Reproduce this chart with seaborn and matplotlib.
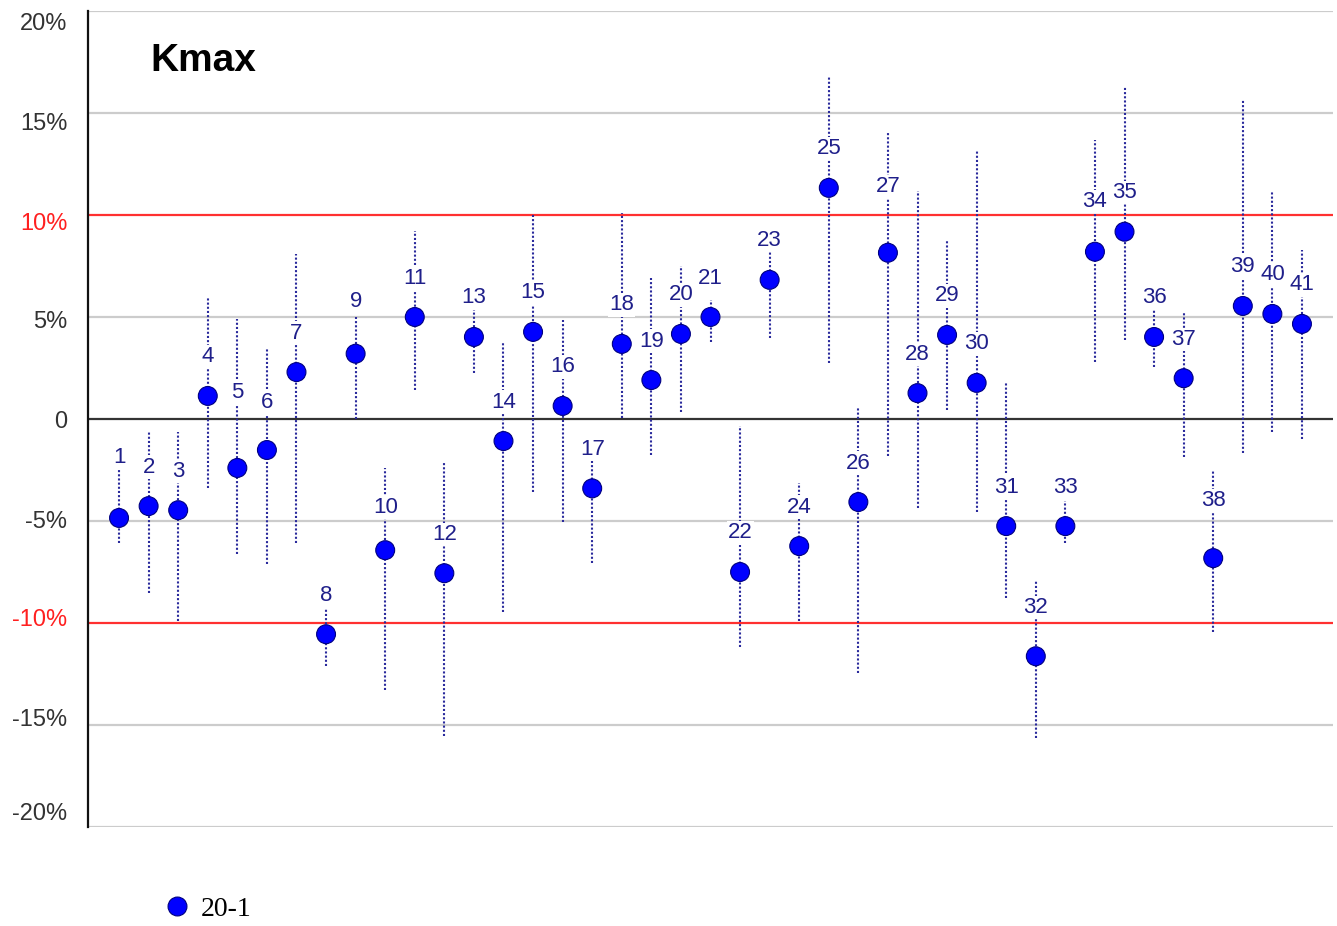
import numpy as np
import pandas as pd
import matplotlib
matplotlib.use('Agg')
import matplotlib.pyplot as plt
import matplotlib.transforms as mtransforms
from matplotlib.ticker import FuncFormatter
import seaborn as sns

# valeurs (en %)
samples = list(range(1, 42))
kmax = [-4.85, -4.27, -4.47, 1.13, -2.40, -1.52, 2.30, -10.55, 3.20, -6.43,
        5.00, -7.56, 4.02, -1.08, 4.27, 0.64, -3.40, 3.68, 1.91, 4.17,
        5.00, -7.50, 6.82, -6.23, 11.33, -4.07, 8.15, 1.27, 4.12, 1.77,
        -5.25, -11.63, -5.25, 8.20, 9.18, 4.02, 2.00, -6.82, 5.54, 5.15, 4.66]
upper = [-2.3, -0.64, -0.64, 5.94, 4.9, 3.43, 8.1, -9.3, 5.0, -2.4,
         9.2, -2.1, 5.5, 3.78, 10.1, 4.86, -1.7, 10.1, 6.9, 7.5,
         5.84, -0.34, 8.2, -3.14, 16.8, 0.54, 14.0, 11.2, 8.78, 13.2,
         1.77, -7.9, -4.0, 13.7, 16.3, 6.48, 5.25, -2.5, 15.7, 11.2, 8.3]
lower = [-6.1, -8.55, -9.9, -3.39, -6.6, -7.1, -6.1, -12.1, 0.0, -13.3,
         1.4, -15.55, 2.26, -9.47, -3.58, -5.05, -7.07, 0.05, -1.77, 0.34,
         3.78, -11.2, 3.97, -9.9, 2.75, -12.46, -1.82, -4.37, 0.44, -4.56,
         -8.78, -15.65, -6.1, 2.8, 3.88, 2.55, -1.87, -10.45, -1.67, -0.64, -0.98]
series_name = '20-1'
y_ticks = [-20, -15, -10, -5, 0, 5, 10, 15, 20]

# décalage vertical des étiquettes (px), 39 par défaut
label_shift = {1: 60, 5: 75, 6: 48, 9: 52, 10: 43, 27: 66, 32: 49, 34: 50, 38: 58}
# les libellés de l'axe y sont un peu resserrés vers le 0 (px, vers le bas)
tick_shift = {20: 11, 15: 8, 10: 6, 5: 2, 0: 0, -5: -1, -10: -6, -15: -8, -20: -15}

df = pd.DataFrame({'sample': samples, 'kmax': kmax, 'series': series_name})

sns.set_style('white')
plt.rcParams['font.family'] = ['Liberation Sans', 'DejaVu Sans']

fig = plt.figure(figsize=(13.37, 9.26), dpi=100)
ax = fig.add_axes([88 / 1337, 1 - 827 / 926, (1333 - 88) / 1337, (827 - 11) / 926])

# lignes horizontales
for v in y_ticks:
    if abs(v) == 10:
        col = '#ff3030'
    elif v == 0:
        col = '#333333'
    else:
        col = '#cccccc'
    ax.axhline(v, color=col, lw=1.6, zorder=1)

# barres d'erreur en pointillé
ax.vlines(df['sample'], lower, upper, colors='#2a2a9c', linestyles=(0, (1, 1)),
          linewidth=1.5, zorder=2)

sns.scatterplot(data=df, x='sample', y='kmax', hue='series', palette=['#0000ff'],
                s=185, edgecolor='#000080', linewidth=0.8, zorder=5, ax=ax)

# étiquettes des points
for n, y in zip(samples, kmax):
    ax.annotate(str(n), (n, y), xytext=(0, label_shift.get(n, 39) * 0.72),
                textcoords='offset points', ha='center', va='center',
                fontsize=16, color='#1f1f8a', zorder=3,
                bbox=dict(boxstyle='square,pad=0.05', fc='white', ec='none'))

ax.set_xlim(-0.05, 42.05)
ax.set_ylim(-20, 20)
ax.set_xticks([])
ax.set_yticks(y_ticks)
ax.yaxis.set_major_formatter(FuncFormatter(lambda v, p: '0' if v == 0 else f'{v:g}%'))
ax.tick_params(axis='y', direction='inout', length=12, width=1.5, labelsize=17,
               labelcolor='#333333', pad=9)
fig.canvas.draw()
for tick in ax.yaxis.get_major_ticks():
    v = int(round(tick.get_loc()))
    lab = tick.label1
    if abs(v) == 10:
        lab.set_color('#ff2020')
    off = mtransforms.ScaledTranslation(0, -tick_shift[v] / 100, fig.dpi_scale_trans)
    lab.set_transform(lab.get_transform() + off)
for s in ['top', 'right', 'bottom']:
    ax.spines[s].set_visible(False)
ax.spines['left'].set_color('#111111')
ax.spines['left'].set_linewidth(1.6)
ax.set_xlabel('')
ax.set_ylabel('')

fig.text(150 / 1337, 1 - 61 / 926, 'Kmax', fontsize=28, fontweight='bold',
         ha='left', va='center', color='black')

sns.move_legend(ax, 'center left', bbox_to_anchor=(163 / 1337, 1 - 909 / 926),
                bbox_transform=fig.transFigure, frameon=False, title=None,
                prop={'family': 'Liberation Serif', 'size': 20}, labelcolor='black',
                handlelength=1.0, handletextpad=0.37, borderaxespad=0, borderpad=0)

plt.savefig('out.png', dpi=100)
